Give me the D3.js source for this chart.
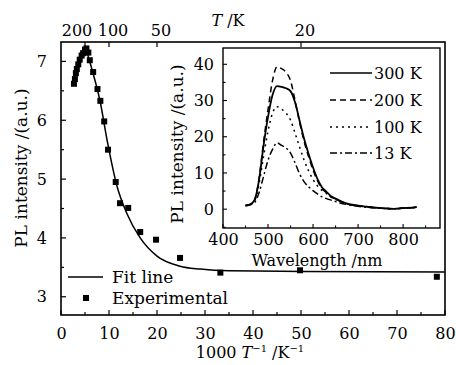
<!DOCTYPE html>
<html><head><meta charset="utf-8">
<script src="https://cdn.jsdelivr.net/npm/d3@7"></script>
<style>
body{margin:0;background:#fff;}
text{font-family:"DejaVu Serif",serif;fill:#000;}
</style></head>
<body><svg id="c" width="456" height="365"></svg>
<script>
// ---- Main chart data ----
const expX = [2.7,2.9,3.1,3.3,3.6,3.9,4.3,4.6,5.0,5.3,5.7,6.0,6.7,7.6,8.2,9.0,9.8,11.4,12.3,14.0,16.5,19.8,24.8,33.2,49.8,78.3];
const expY = [6.62,6.70,6.80,6.87,6.95,7.03,7.10,7.14,7.20,7.22,7.15,7.02,6.82,6.53,6.33,5.98,5.50,4.95,4.59,4.51,4.10,3.97,3.66,3.41,3.45,3.34];
const fitX = [5.0,6.5,8.1,9.7,11.6,13.7,16.5,20,24.8,29,35,50,80];
const fitY = [7.27,6.85,6.34,5.62,4.90,4.42,4.00,3.69,3.52,3.47,3.44,3.43,3.42];
const xTicks = [0,10,20,30,40,50,60,70,80];
const yTicks = [3,4,5,6,7];
const topTempK = [200,100,50,20];
// ---- Inset data ----
const wl = [450,460,470,480,490,500,510,520,530,540,550,560,570,580,590,600,610,620,630,640,650,660,680,700,720,740,760,780,800,820,830];
const s300 = [1.0,1.3,2.5,8.0,17.5,25.5,31.5,34.0,33.8,33.4,32.6,29.5,24.5,19.5,15.3,11.5,8.3,6.0,4.8,3.6,2.9,2.3,1.4,1.0,0.7,0.4,0.2,0.1,0.3,0.4,0.6];
const s200 = [1.0,1.3,2.5,8.5,18.5,27.5,35.5,39.3,38.8,37.8,35.5,30.0,24.0,18.8,14.5,10.8,7.8,5.7,4.5,3.4,2.8,2.2,1.3,0.9,0.6,0.4,0.2,0.1,0.3,0.4,0.6];
const s100 = [1.0,1.3,2.3,7.0,14.5,21.5,26.5,28.3,27.6,26.5,24.6,21.0,17.2,13.6,10.6,8.2,6.4,5.2,4.3,3.3,2.7,2.1,1.3,0.9,0.6,0.4,0.2,0.1,0.3,0.4,0.6];
const s13  = [1.0,1.2,1.8,4.5,9.0,13.5,16.5,18.3,17.6,16.9,15.5,12.8,9.8,7.6,6.2,5.1,4.2,3.4,2.9,2.5,2.1,1.7,1.2,0.8,0.5,0.3,0.2,0.1,0.3,0.4,0.6];
const seriesNames = ["300 K","200 K","100 K","13 K"];
const insetXTicks = [400,500,600,700,800];
const insetYTicks = [0,10,20,30,40];

const svg = d3.select("#c");
const L=61,R=445,T=42,B=315;
const x = d3.scaleLinear().domain([0,80]).range([L,R]);
const y = d3.scaleLinear().domain([2.69,7.33]).range([B,T]);

// frame
svg.append("rect").attr("x",L).attr("y",T).attr("width",R-L).attr("height",B-T)
  .attr("fill","none").attr("stroke","#000").attr("stroke-width",1.6);

// bottom axis
const xb = svg.append("g").attr("transform",`translate(0,${B})`)
  .call(d3.axisBottom(x).tickValues(xTicks).tickSize(0).tickPadding(13).tickFormat(d3.format("d")));
xb.select(".domain").remove();
xb.selectAll("text").attr("font-size",16).attr("font-family","DejaVu Serif");
// ticks inside (major + minor)
const minorX = d3.range(0,81,5);
svg.append("g").selectAll("line").data(minorX).join("line")
  .attr("x1",d=>x(d)).attr("x2",d=>x(d)).attr("y1",B).attr("y2",d=>B-(d%10===0?5:3))
  .attr("stroke","#000").attr("stroke-width",1.2);

// left axis
const yl = svg.append("g").attr("transform",`translate(${L},0)`)
  .call(d3.axisLeft(y).tickValues(yTicks).tickSize(0).tickPadding(14).tickFormat(d3.format("d")));
yl.select(".domain").remove();
yl.selectAll("text").attr("font-size",16).attr("font-family","DejaVu Serif");
const minorY = d3.range(3,7.01,0.5);
svg.append("g").selectAll("line").data(minorY).join("line")
  .attr("x1",L).attr("x2",d=>L+(Number.isInteger(d)?5:3)).attr("y1",d=>y(d)).attr("y2",d=>y(d))
  .attr("stroke","#000").attr("stroke-width",1.2);

// top axis: temperature
const topG = svg.append("g");
topG.selectAll("line").data(topTempK).join("line")
  .attr("x1",d=>x(1000/d)).attr("x2",d=>x(1000/d)).attr("y1",T).attr("y2",T+5)
  .attr("stroke","#000").attr("stroke-width",1.2);
topG.selectAll("text").data(topTempK).join("text")
  .attr("x",d=>x(1000/d)).attr("dx",(d,i)=>i===0?-8:4)
  .attr("y",T-6).attr("text-anchor","middle").attr("font-size",16).text(d=>d);
svg.append("text").attr("x",228).attr("y",26).attr("text-anchor","middle").attr("font-size",16)
  .html('<tspan font-style="italic">T</tspan> /K');

// axis titles
svg.append("text").attr("transform",`translate(27,168) rotate(-90)`).attr("text-anchor","middle")
  .attr("font-size",17).text("PL intensity /(a.u.)");
svg.append("text").attr("x",250).attr("y",358).attr("text-anchor","middle").attr("font-size",16)
  .html('1000 <tspan font-style="italic">T</tspan><tspan dy="-6" font-size="10">−1</tspan><tspan dy="6"> /K</tspan><tspan dy="-6" font-size="10">−1</tspan>');

// fit line
const fitData = fitX.map((v,i)=>[v,fitY[i]]);
svg.append("path").datum(fitData)
  .attr("d",d3.line().x(d=>x(d[0])).y(d=>y(d[1])).curve(d3.curveMonotoneX))
  .attr("fill","none").attr("stroke","#000").attr("stroke-width",1.5);
// experimental points
const expData = expX.map((v,i)=>[v,expY[i]]);
svg.append("g").selectAll("rect").data(expData).join("rect")
  .attr("x",d=>x(d[0])-3).attr("y",d=>y(d[1])-3).attr("width",6).attr("height",6).attr("fill","#000");

// main legend
svg.append("line").attr("x1",68).attr("x2",103).attr("y1",277).attr("y2",277).attr("stroke","#000").attr("stroke-width",1.5);
svg.append("text").attr("x",112).attr("y",283).attr("font-size",17).text("Fit line");
svg.append("rect").attr("x",83).attr("y",295).attr("width",6).attr("height",6).attr("fill","#000");
svg.append("text").attr("x",112).attr("y",304).attr("font-size",17).text("Experimental");

// ---- Inset ----
const iL=223,iR=440,iT=48,iB=228;
const ix = d3.scaleLinear().domain([400,882]).range([iL,iR]);
const iy = d3.scaleLinear().domain([-5.2,44.5]).range([iB,iT]);
svg.append("rect").attr("x",iL).attr("y",iT).attr("width",iR-iL).attr("height",iB-iT)
  .attr("fill","#fff").attr("stroke","#000").attr("stroke-width",1.4);
const ixa = svg.append("g").attr("transform",`translate(0,${iB})`)
  .call(d3.axisBottom(ix).tickValues(insetXTicks).tickSize(0).tickPadding(6).tickFormat(d3.format("d")));
ixa.select(".domain").remove();
ixa.selectAll("text").attr("font-size",16).attr("font-family","DejaVu Serif");
svg.append("g").selectAll("line").data(d3.range(400,881,50)).join("line")
  .attr("x1",d=>ix(d)).attr("x2",d=>ix(d)).attr("y1",iB).attr("y2",d=>iB-(d%100===0?4:2.5))
  .attr("stroke","#000").attr("stroke-width",1.1);
const iya = svg.append("g").attr("transform",`translate(${iL},0)`)
  .call(d3.axisLeft(iy).tickValues(insetYTicks).tickSize(0).tickPadding(9).tickFormat(d3.format("d")));
iya.select(".domain").remove();
iya.selectAll("text").attr("font-size",16).attr("font-family","DejaVu Serif");
svg.append("g").selectAll("line").data(d3.range(-5,44,5)).join("line")
  .attr("x1",iL).attr("x2",d=>iL+(d%10===0?4:2.5)).attr("y1",d=>iy(d)).attr("y2",d=>iy(d))
  .attr("stroke","#000").attr("stroke-width",1.1);
svg.append("text").attr("transform",`translate(183,144) rotate(-90)`).attr("text-anchor","middle")
  .attr("font-size",17).text("PL intensity /(a.u.)");
svg.append("text").attr("x",317).attr("y",266).attr("text-anchor","middle").attr("font-size",16).text("Wavelength /nm");

const dashes = [null,"6,4","2,4","7,3,2,3"];
const allS = [s300,s200,s100,s13];
const iline = d3.line().x(d=>ix(d[0])).y(d=>iy(d[1])).curve(d3.curveMonotoneX);
allS.forEach((s,k)=>{
  svg.append("path").datum(wl.map((w,i)=>[w,s[i]])).attr("d",iline)
    .attr("fill","none").attr("stroke","#000").attr("stroke-width",k===0?1.8:1.5)
    .attr("stroke-dasharray",dashes[k]);
});
// inset legend
const legY = [73,100,127,153];
seriesNames.forEach((n,k)=>{
  svg.append("line").attr("x1",330).attr("x2",372).attr("y1",legY[k]).attr("y2",legY[k])
    .attr("stroke","#000").attr("stroke-width",1.5).attr("stroke-dasharray",dashes[k]);
  svg.append("text").attr("x",374).attr("y",legY[k]+6).attr("font-size",16).text(n);
});
</script></body></html>
